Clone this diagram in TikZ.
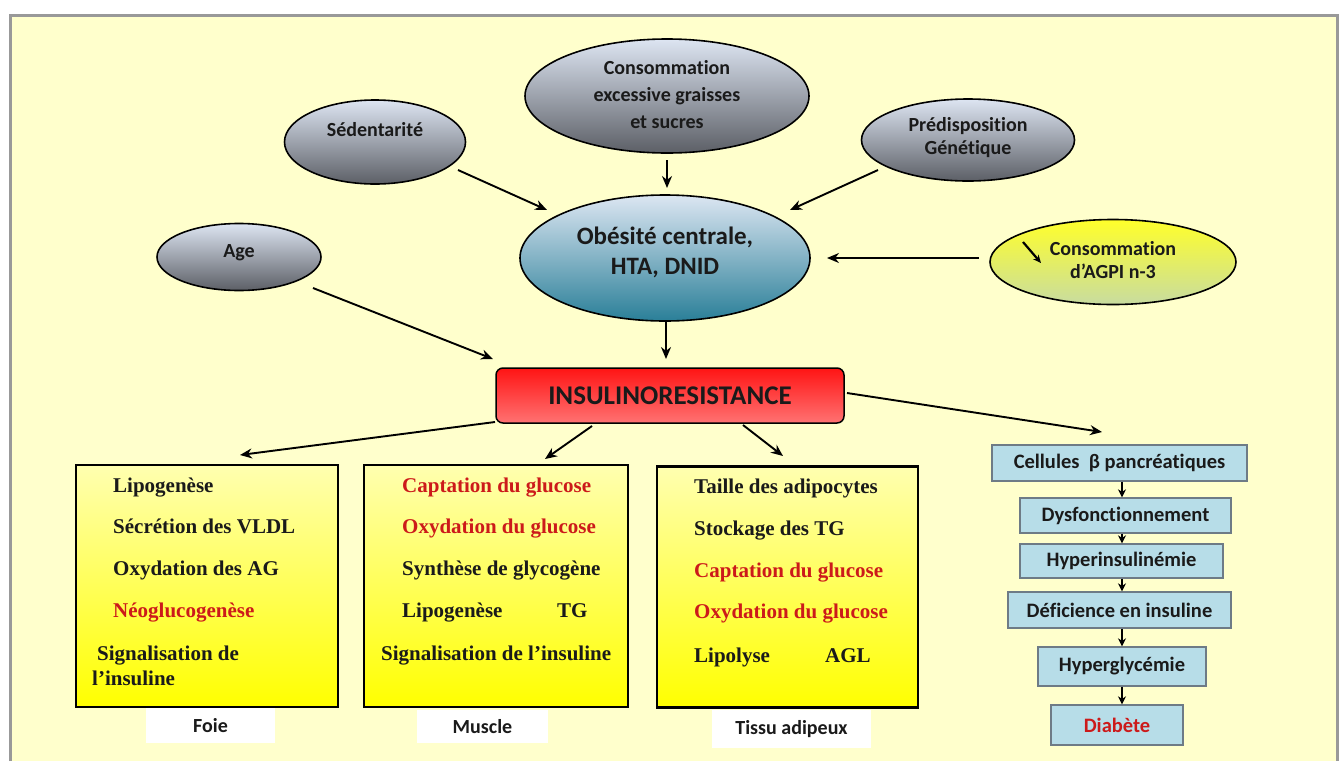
\documentclass[tikz,border=0pt]{standalone}
\usepackage{fontspec}
\setmainfont{Liberation Serif}
\newfontfamily\calfont[Ligatures=NoCommon]{Carlito}
\usetikzlibrary{shapes.geometric,arrows.meta,calc}

\definecolor{bgyellow}{HTML}{FFFFCC}
\definecolor{framegrey}{HTML}{999999}
\definecolor{ellTop}{HTML}{DDE5F2}
\definecolor{ellBot}{HTML}{5C5F66}
\definecolor{obeTop}{HTML}{DCE6F2}
\definecolor{obeBot}{HTML}{2A7F98}
\definecolor{agTop}{HTML}{FFFF2A}
\definecolor{agBot}{HTML}{C8DCA0}
\definecolor{insTop}{HTML}{FF1414}
\definecolor{insBot}{HTML}{FF7272}
\definecolor{boxTop}{HTML}{FFFFB0}
\definecolor{boxBot}{HTML}{FFFF00}
\definecolor{chainFill}{HTML}{B7DDE8}
\definecolor{chainLine}{HTML}{6E7B86}
\definecolor{txtred}{HTML}{CC1A1A}
\definecolor{txtdark}{HTML}{1A1A1A}

\begin{document}
\begin{tikzpicture}[x=1pt,y=-1pt,
  ell/.style={ellipse, draw=black, line width=1.6pt, inner sep=0pt},
  greyell/.style={ell, top color=ellTop, bottom color=ellBot},
  lab/.style={font=\calfont\bfseries\fontsize{20}{23}\selectfont, text=txtdark, align=center, inner sep=0pt},
  arr/.style={line width=1.9pt, -{Stealth[length=12pt,width=10pt]}},
  organ/.style={draw=black, line width=2.4pt, top color=boxTop, bottom color=boxBot, inner sep=0pt},
  item/.style={font=\bfseries\fontsize{21}{25}\selectfont, text=txtdark, anchor=base west, inner sep=0pt},
  reditem/.style={item, text=txtred},
  tag/.style={fill=white, inner sep=0pt, font=\calfont\bfseries\fontsize{20}{24}\selectfont, text=txtdark},
  chainbox/.style={draw=chainLine, line width=1.4pt, fill=chainFill, inner sep=0pt, font=\calfont\bfseries\fontsize{20.5}{24}\selectfont, text=txtdark},
  carr/.style={line width=1.2pt, -{Stealth[length=8pt,width=8pt]}},
]
\useasboundingbox (0,0) rectangle (1342,761);
\fill[white] (0,0) rectangle (1342,761);
\fill[bgyellow] (10,15) rectangle (1338,761);
\draw[framegrey, line width=3pt] (10,761) -- (10,15) -- (1337.5,15) -- (1337.5,761);

% ellipses
\node[greyell, minimum width=284, minimum height=114] (cons) at (667,96) {};
\node[lab, font=\calfont\bfseries\fontsize{20}{27}\selectfont] (consT) at (667,95) {Consommation\\excessive graisses\\et sucres};
\node[greyell, minimum width=181, minimum height=84] (sed) at (375,142) {};
\node[lab] (sedT) at (375,130) {Sédentarité};
\node[greyell, minimum width=213, minimum height=82] (pred) at (968,140) {};
\node[lab] (predT) at (968,138) {Prédisposition\\Génétique};
\node[greyell, minimum width=164, minimum height=67] (age) at (239,257) {};
\node[lab] (ageT) at (239,253) {Age};
\node[ell, top color=obeTop, bottom color=obeBot, minimum width=290, minimum height=126] (obe) at (665,258) {};
\node[lab, font=\calfont\bfseries\fontsize{25}{30}\selectfont] (obeT) at (665,252) {Obésité centrale,\\HTA, DNID};
\node[ell, top color=agTop, bottom color=agBot, minimum width=246, minimum height=85] (agpi) at (1113,262) {};
\node[lab] (agpiT) at (1113,260) {Consommation\\d’AGPI n-3};
\coordinate (dA) at (1023,242);
\coordinate (dB) at (1041,263);
\draw[line width=2.2pt, -{Stealth[length=8pt,width=7pt]}] (dA) -- (dB);

% insulinoresistance
\node[draw=black, line width=1.5pt, rounded corners=7pt, top color=insTop, bottom color=insBot,
      minimum width=348, minimum height=55, inner sep=0pt,
      font=\calfont\bfseries\fontsize{27}{30}\selectfont, text=txtdark] (ins) at (670,395.5) {INSULINORESISTANCE};

% organ boxes
\node[organ, minimum width=262, minimum height=242] (foie) at (207,586) {};
\node[organ, minimum width=264, minimum height=242] (muscle) at (496,586) {};
\node[organ, minimum width=261, minimum height=241] (tissu) at (787.5,587) {};

\node[item] (f1) at (113,492) {Lipogenèse};
\node[item] (f2) at (113,533) {Sécrétion des VLDL};
\node[item] (f3) at (113,575) {Oxydation des AG};
\node[reditem] (f4) at (113,617) {Néoglucogenèse};
\node[item] (f5) at (97,660) {Signalisation de};
\node[item] (f6) at (92,685) {l’insuline};

\node[reditem] (m1) at (402,492) {Captation du glucose};
\node[reditem] (m2) at (402,533) {Oxydation du glucose};
\node[item] (m3) at (402,575) {Synthèse de glycogène};
\node[item] (m4) at (402,617) {Lipogenèse};
\node[item] (m4b) at (557,617) {TG};
\node[item] (m5) at (381,660) {Signalisation de l’insuline};

\node[item] (t1) at (694,493) {Taille des adipocytes};
\node[item] (t2) at (694,535) {Stockage des TG};
\node[reditem] (t3) at (694,577) {Captation du glucose};
\node[reditem] (t4) at (694,618) {Oxydation du glucose};
\node[item] (t5) at (694,662) {Lipolyse};
\node[item] (t5b) at (825,662) {AGL};

\node[tag, minimum width=129, minimum height=35] (foieT) at (210.5,725.5) {Foie};
\node[tag, minimum width=131, minimum height=33] (muscleT) at (482.5,726.5) {Muscle};
\node[tag, minimum width=159, minimum height=38] (tissuT) at (791.5,729) {Tissu adipeux};

% chain
\node[chainbox, minimum width=255, minimum height=36] (c1) at (1119.5,463) {Cellules\ \ β pancréatiques};
\node[chainbox, minimum width=211, minimum height=35] (c2) at (1125.5,515.5) {Dysfonctionnement};
\node[chainbox, minimum width=203, minimum height=34] (c3) at (1121.5,561) {Hyperinsulinémie};
\node[chainbox, minimum width=223, minimum height=36] (c4) at (1119.5,610) {Déficience en insuline};
\node[chainbox, minimum width=168, minimum height=39] (c5) at (1122,666.5) {Hyperglycémie};
\node[chainbox, minimum width=132, minimum height=40, text=txtred] (c6) at (1117,725) {Diabète};
\coordinate (cx) at (1122,0);
\draw[carr] (c1.south -| cx) -- (c2.north -| cx);
\draw[carr] (c2.south -| cx) -- (c3.north -| cx);
\draw[carr] (c3.south -| cx) -- (c4.north -| cx);
\draw[carr] (c4.south -| cx) -- (c5.north -| cx);
\draw[carr] (c5.south -| cx) -- (c6.north -| cx);

% arrows
\draw[arr] ($(cons)+(0,64)$) -- ($(obe)+(2,-70)$);
\draw[arr] ($(sed)+(83,28)$) -- ($(obe)+(-118,-48)$);
\draw[arr] ($(pred)+(-90,30)$) -- ($(obe)+(125,-48)$);
\draw[arr] ($(agpi)+(-134,-4)$) -- ($(obe)+(162,0)$);
\draw[arr] ($(age)+(74,31)$) -- ($(ins)+(-177,-36.5)$);
\draw[arr] ($(obe)+(1,64)$) -- ($(ins)+(-4,-36.5)$);
\draw[arr] ($(ins)+(-175,26.5)$) -- ($(foie)+(33,-131)$);
\draw[arr] ($(ins)+(-78,30.5)$) -- ($(muscle)+(49,-127)$);
\draw[arr] ($(ins)+(73,29.5)$) -- ($(tissu)+(-4.5,-131)$);
\draw[arr] ($(ins)+(177,-2.5)$) -- ($(c1)+(-17.5,-31)$);
\end{tikzpicture}
\end{document}
